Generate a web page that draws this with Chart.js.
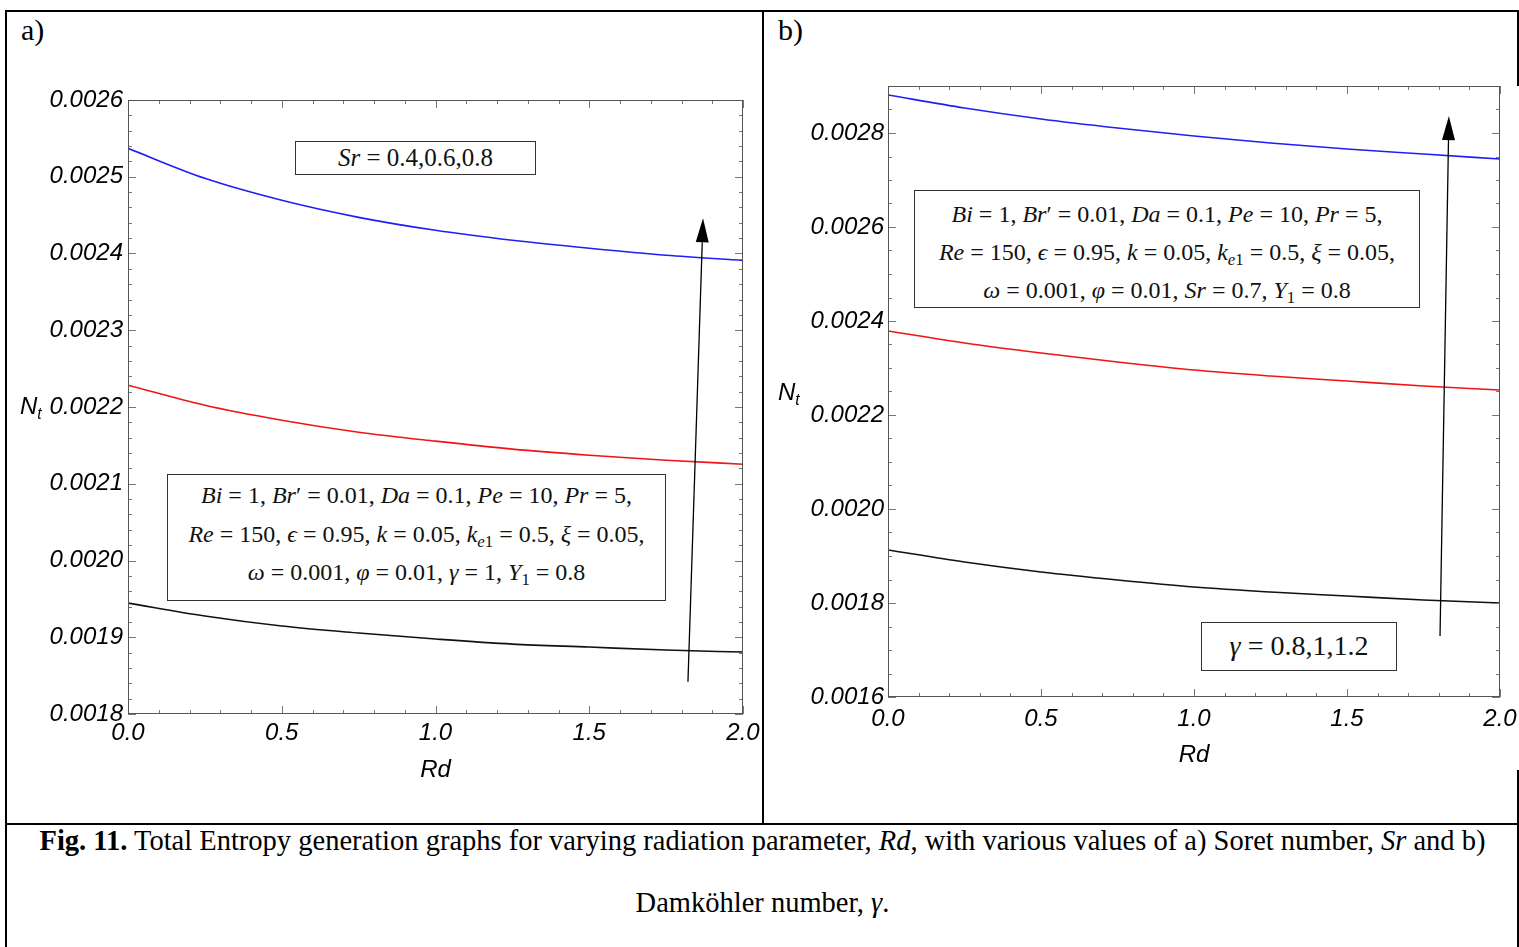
<!DOCTYPE html>
<html>
<head>
<meta charset="utf-8">
<title>Fig. 11 - Total entropy generation vs Rd</title>
<script src="https://cdn.jsdelivr.net/npm/chart.js@4.4.1/dist/chart.umd.min.js"></script>
<style>
	body {
		margin: 0;
		background: #fff;
		width: 1519px;
		height: 947px;
		overflow: hidden;
		position: relative;
		font-family: 'Liberation Serif', serif;
		color: #000;
	}

	.rule { position: absolute; background: #000; }

	canvas { position: absolute; }

	.box {
		position: absolute;
		box-sizing: border-box;
		border: 1px solid #333;
		background: #fff;
		text-align: center;
		font-size: 24px;
		color: #111;
		white-space: nowrap;
	}

	.box sub { font-size: 70%; vertical-align: -0.3em; line-height: 0; }

	.tag { position: absolute; font-size: 30px; }

	.nt {
		position: absolute;
		font-family: 'Liberation Sans', sans-serif;
		font-style: italic;
		font-size: 24px;
	}
	.nt sub { font-size: 65%; vertical-align: -0.35em; line-height: 0; }

	.caption {
		position: absolute;
		left: 7px;
		width: 1511px;
		text-align: center;
		font-size: 28.5px;
		white-space: nowrap;
	}
</style>
</head>
<body>
	<!-- outer table rules -->
	<div class="rule" style="left:5px; top:10px; width:1514px; height:2px;"></div>
	<div class="rule" style="left:5px; top:10px; width:2px; height:937px;"></div>
	<div class="rule" style="left:762px; top:10px; width:2px; height:815px;"></div>
	<div class="rule" style="left:1517px; top:10px; width:2px; height:76px;"></div>
	<div class="rule" style="left:1517px; top:770px; width:2px; height:177px;"></div>
	<div class="rule" style="left:5px; top:823px; width:1514px; height:2px;"></div>

	<div class="tag" style="left:21px; top:13px;">a)</div>
	<div class="tag" style="left:778px; top:13px;">b)</div>

	<canvas id="chartA" width="754" height="780" style="left:8px; top:40px;"></canvas>
	<canvas id="chartB" width="752" height="780" style="left:766px; top:40px;"></canvas>

	<div class="nt" style="left:20px; top:392px;">N<sub>t</sub></div>
	<div class="nt" style="left:778px; top:378px;">N<sub>t</sub></div>

	<div class="box" style="left:295px; top:141px; width:241px; height:34px; line-height:32px; font-size:25px;">
		<i>Sr</i> = 0.4,0.6,0.8
	</div>

	<div class="box" style="left:167px; top:474px; width:499px; height:127px; padding-top:1px; line-height:38.5px;">
		<div><i>Bi</i> = 1, <i>Br</i>′ = 0.01, <i>Da</i> = 0.1, <i>Pe</i> = 10, <i>Pr</i> = 5,</div>
		<div><i>Re</i> = 150, <i>ϵ</i> = 0.95, <i>k</i> = 0.05, <i>k</i><sub><i>e</i>1</sub> = 0.5, <i>ξ</i> = 0.05,</div>
		<div><i>ω</i> = 0.001, <i>φ</i> = 0.01, <i>γ</i> = 1, <i>Y</i><sub>1</sub> = 0.8</div>
	</div>

	<div class="box" style="left:914px; top:190px; width:506px; height:118px; padding-top:4px; line-height:38px;">
		<div><i>Bi</i> = 1, <i>Br</i>′ = 0.01, <i>Da</i> = 0.1, <i>Pe</i> = 10, <i>Pr</i> = 5,</div>
		<div><i>Re</i> = 150, <i>ϵ</i> = 0.95, <i>k</i> = 0.05, <i>k</i><sub><i>e</i>1</sub> = 0.5, <i>ξ</i> = 0.05,</div>
		<div><i>ω</i> = 0.001, <i>φ</i> = 0.01, <i>Sr</i> = 0.7, <i>Y</i><sub>1</sub> = 0.8</div>
	</div>

	<div class="box" style="left:1201px; top:622px; width:196px; height:49px; line-height:46px; font-size:28px;">
		<i>γ</i> = 0.8,1,1.2
	</div>

	<div class="caption" style="top:825px;">
		<b>Fig. 11.</b> Total Entropy generation graphs for varying radiation parameter, <i>Rd</i>, with various values of a) Soret number, <i>Sr</i> and b)
	</div>
	<div class="caption" style="top:887px;">
		Damköhler number, <i>γ</i>.
	</div>

	<script>
		// radiation parameter Rd (x axis)
		var rdValues = [ 0, 0.25, 0.5, 0.75, 1.0, 1.25, 1.5, 1.75, 2.0 ];
		var xTicks = [ 0, 0.5, 1.0, 1.5, 2.0 ];

		// a) Soret number Sr = 0.4, 0.6, 0.8
		var ntSr04 = [ 0.0019445, 0.0019276, 0.0019146, 0.0019055, 0.0018977, 0.0018911, 0.0018872, 0.0018833, 0.0018807 ];
		var ntSr06 = [ 0.0022284, 0.0022023, 0.0021828, 0.0021672, 0.0021555, 0.0021451, 0.0021372, 0.0021307, 0.0021255 ];
		var ntSr08 = [ 0.0025370, 0.0024979, 0.0024693, 0.0024471, 0.0024302, 0.0024172, 0.0024068, 0.0023977, 0.0023911 ];
		var yTicksA = [ 0.0018, 0.0019, 0.0020, 0.0021, 0.0022, 0.0023, 0.0024, 0.0025, 0.0026 ];
		var arrowA = [ 1.821, 0.001842, 1.870, 0.002446 ];

		// b) Damkohler number gamma = 0.8, 1, 1.2
		var ntGam08 = [ 0.0019128, 0.0018872, 0.0018660, 0.0018489, 0.0018340, 0.0018234, 0.0018149, 0.0018064, 0.0018000 ];
		var ntGam10 = [ 0.0023787, 0.0023532, 0.0023319, 0.0023128, 0.0022957, 0.0022830, 0.0022723, 0.0022617, 0.0022532 ];
		var ntGam12 = [ 0.0028809, 0.0028532, 0.0028298, 0.0028106, 0.0027936, 0.0027787, 0.0027660, 0.0027553, 0.0027447 ];
		var yTicksB = [ 0.0016, 0.0018, 0.0020, 0.0022, 0.0024, 0.0026, 0.0028 ];
		var arrowB = [ 1.804, 0.001730, 1.833, 0.002836 ];

		var tickFont = { family: 'Liberation Sans', style: 'italic', size: 24 };

		// mathematica style frame with inward ticks on all four sides, plus the arrow
		var framePlugin = {
			id: 'frame',
			afterDraw: function( chart, args, opts ) {
				var ctx = chart.ctx;
				var a = chart.chartArea;
				var x = chart.scales.x;
				var y = chart.scales.y;

				ctx.save();
				ctx.lineWidth = 1;
				ctx.strokeStyle = '#777';

				function seg( x1, y1, x2, y2 ) {
					ctx.beginPath();
					ctx.moveTo( x1, y1 );
					ctx.lineTo( x2, y2 );
					ctx.stroke();
				}

				function ticksOn( scale, min, max, step, majorStep, horizontal ) {
					var n = Math.round( ( max - min ) / step );
					for( var i = 0; i <= n; i++ ) {
						var v = min + i * step;
						var r = Math.abs( v / majorStep - Math.round( v / majorStep ) );
						var len = r < 1e-6 ? 8 : 4;
						var p = Math.round( scale.getPixelForValue( v ) ) + 0.5;
						if( horizontal ) {
							seg( p, a.bottom, p, a.bottom - len );
							seg( p, a.top, p, a.top + len );
						} else {
							seg( a.left, p, a.left + len, p );
							seg( a.right, p, a.right - len, p );
						}
					}
				}

				ticksOn( x, x.min, x.max, opts.minorX, opts.majorX, true );
				ticksOn( y, y.min, y.max, opts.minorY, opts.majorY, false );

				ctx.strokeStyle = '#555';
				ctx.strokeRect( Math.round( a.left ) + 0.5, Math.round( a.top ) + 0.5,
					Math.round( a.right - a.left ) - 1, Math.round( a.bottom - a.top ) - 1 );

				// arrow
				var ar = opts.arrow;
				var x1 = x.getPixelForValue( ar[ 0 ] ), y1 = y.getPixelForValue( ar[ 1 ] );
				var x2 = x.getPixelForValue( ar[ 2 ] ), y2 = y.getPixelForValue( ar[ 3 ] );
				var ang = Math.atan2( y2 - y1, x2 - x1 );
				var hl = 24, hw = 6.5;
				var bx = x2 - hl * Math.cos( ang ), by = y2 - hl * Math.sin( ang );

				ctx.strokeStyle = '#000';
				ctx.fillStyle = '#000';
				ctx.lineWidth = 1.3;
				seg( x1, y1, bx, by );
				ctx.beginPath();
				ctx.moveTo( x2, y2 );
				ctx.lineTo( bx + hw * Math.sin( ang ), by - hw * Math.cos( ang ) );
				ctx.lineTo( bx - hw * Math.sin( ang ), by + hw * Math.cos( ang ) );
				ctx.closePath();
				ctx.fill();

				ctx.restore();
			}
		};

		function toPoints( ys ) {
			return rdValues.map( function( v, i ) { return { x: v, y: ys[ i ] }; } );
		}

		function makePanel( id, series, yMin, yMax, yTicks, deco, box ) {
			new Chart( document.getElementById( id ), {
				type: 'line',
				data: {
					datasets: [
						{ data: toPoints( series[ 0 ] ), borderColor: '#111111' },
						{ data: toPoints( series[ 1 ] ), borderColor: '#f01414' },
						{ data: toPoints( series[ 2 ] ), borderColor: '#1f1ff5' }
					]
				},
				plugins: [ framePlugin ],
				options: {
					responsive: false,
					animation: false,
					layout: { padding: box.padding },
					elements: {
						point: { radius: 0 },
						line: { borderWidth: 1.6, cubicInterpolationMode: 'monotone', fill: false }
					},
					plugins: {
						legend: { display: false },
						tooltip: { enabled: false },
						frame: deco
					},
					scales: {
						x: {
							type: 'linear',
							min: 0,
							max: 2,
							afterBuildTicks: function( s ) {
								s.ticks = xTicks.map( function( v ) { return { value: v }; } );
							},
							afterFit: function( s ) {
								s.height = box.xHeight;
								s.paddingLeft = 0;
								s.paddingRight = 0;
							},
							grid: { display: false, drawTicks: false },
							border: { display: false },
							ticks: {
								padding: box.xPad,
								color: '#000',
								font: tickFont,
								maxRotation: 0,
								autoSkip: false,
								callback: function( v ) { return Number( v ).toFixed( 1 ); }
							},
							title: {
								display: true,
								text: 'Rd',
								color: '#000',
								font: tickFont,
								padding: { top: 0, bottom: 0 }
							}
						},
						y: {
							type: 'linear',
							min: yMin,
							max: yMax,
							afterBuildTicks: function( s ) {
								s.ticks = yTicks.map( function( v ) { return { value: v }; } );
							},
							afterFit: function( s ) {
								s.width = box.yWidth;
								s.paddingTop = 0;
								s.paddingBottom = 0;
							},
							grid: { display: false, drawTicks: false },
							border: { display: false },
							ticks: {
								padding: box.yPad,
								color: '#000',
								font: tickFont,
								autoSkip: false,
								callback: function( v ) { return Number( v ).toFixed( 4 ); }
							}
						}
					}
				}
			});
		}

		makePanel( 'chartA', [ ntSr04, ntSr06, ntSr08 ], 0.0018, 0.0026, yTicksA,
			{ minorX: 0.1, majorX: 0.5, minorY: 0.00002, majorY: 0.0001, arrow: arrowA },
			{ padding: { left: 0, top: 60, right: 19, bottom: 35 }, xHeight: 71, yWidth: 120, xPad: 5, yPad: 5 } );

		makePanel( 'chartB', [ ntGam08, ntGam10, ntGam12 ], 0.0016, 0.0029, yTicksB,
			{ minorX: 0.1, majorX: 0.5, minorY: 0.00005, majorY: 0.0002, arrow: arrowB },
			{ padding: { left: 0, top: 46, right: 18, bottom: 50 }, xHeight: 73, yWidth: 122, xPad: 8, yPad: 4 } );
	</script>
</body>
</html>
